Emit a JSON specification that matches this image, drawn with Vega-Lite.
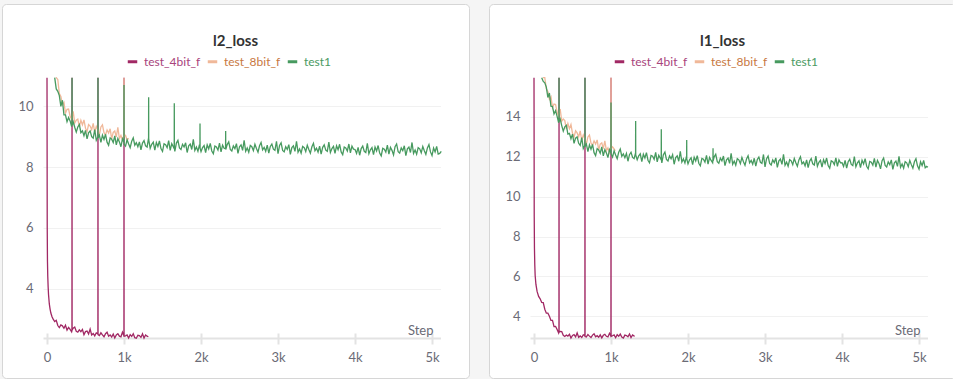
{
"$schema": "https://vega.github.io/schema/vega-lite/v6.json",
"background": "#f5f5f5",
"padding": {"left": 1, "top": 3, "right": 0, "bottom": 0},
"spacing": 18,
"config": {
  "view": {"fill": "white", "stroke": "#d6d6d6", "strokeWidth": 1, "cornerRadius": 4},
  "font": "Lato"
},
"resolve": {"legend": {"color": "independent"}},
"datasets": {
"l2_a": [{"x":0,"y":12},{"x":3,"y":6.0},{"x":6,"y":4.9},{"x":10,"y":4.4},{"x":15,"y":4.05},{"x":20,"y":3.8},{"x":30,"y":3.5},{"x":40,"y":3.33},{"x":50,"y":3.2},{"x":65,"y":3.08},{"x":80,"y":3.0},{"x":100,"y":2.92},{"x":120,"y":2.96},{"x":140,"y":2.79},{"x":160,"y":2.72},{"x":180,"y":2.81},{"x":200,"y":2.78},{"x":220,"y":2.7},{"x":240,"y":2.8},{"x":260,"y":2.64},{"x":280,"y":2.73},{"x":300,"y":2.66},{"x":320,"y":2.58},{"x":324,"y":2.62},{"x":325,"y":12},{"x":326,"y":2.64},{"x":340,"y":2.7},{"x":360,"y":2.74},{"x":380,"y":2.6},{"x":400,"y":2.57},{"x":420,"y":2.65},{"x":440,"y":2.59},{"x":460,"y":2.66},{"x":480,"y":2.49},{"x":500,"y":2.59},{"x":520,"y":2.61},{"x":540,"y":2.51},{"x":560,"y":2.67},{"x":580,"y":2.48},{"x":600,"y":2.53},{"x":620,"y":2.45},{"x":640,"y":2.55},{"x":660,"y":2.52},{"x":661,"y":2.5},{"x":662,"y":12},{"x":663,"y":2.49},{"x":680,"y":2.46},{"x":700,"y":2.55},{"x":720,"y":2.48},{"x":740,"y":2.42},{"x":760,"y":2.52},{"x":780,"y":2.57},{"x":800,"y":2.44},{"x":820,"y":2.48},{"x":840,"y":2.41},{"x":860,"y":2.51},{"x":880,"y":2.38},{"x":900,"y":2.48},{"x":920,"y":2.52},{"x":940,"y":2.44},{"x":960,"y":2.42},{"x":980,"y":2.57},{"x":999,"y":2.45},{"x":1000,"y":12},{"x":1001,"y":2.44},{"x":1020,"y":2.45},{"x":1040,"y":2.48},{"x":1060,"y":2.38},{"x":1080,"y":2.49},{"x":1100,"y":2.43},{"x":1120,"y":2.52},{"x":1140,"y":2.39},{"x":1160,"y":2.37},{"x":1180,"y":2.47},{"x":1200,"y":2.46},{"x":1220,"y":2.4},{"x":1240,"y":2.52},{"x":1260,"y":2.38},{"x":1280,"y":2.48},{"x":1300,"y":2.44},{"x":1316,"y":2.42}],
"l2_b": [{"x":115,"y":11.2},{"x":120,"y":11.07},{"x":140,"y":10.88},{"x":160,"y":10.42},{"x":180,"y":10.32},{"x":200,"y":10.05},{"x":220,"y":10.13},{"x":240,"y":9.77},{"x":260,"y":9.9},{"x":280,"y":9.91},{"x":300,"y":9.67},{"x":320,"y":9.58},{"x":340,"y":9.83},{"x":360,"y":9.45},{"x":380,"y":9.54},{"x":400,"y":9.58},{"x":420,"y":9.32},{"x":440,"y":9.54},{"x":460,"y":9.39},{"x":480,"y":9.55},{"x":500,"y":9.28},{"x":520,"y":9.17},{"x":540,"y":9.4},{"x":560,"y":9.35},{"x":580,"y":9.23},{"x":600,"y":9.44},{"x":620,"y":9.14},{"x":640,"y":9.34},{"x":660,"y":9.23},{"x":680,"y":9.06},{"x":700,"y":9.32},{"x":720,"y":9.39},{"x":740,"y":9.13},{"x":760,"y":9.06},{"x":780,"y":9.22},{"x":800,"y":9.12},{"x":820,"y":9.26},{"x":840,"y":8.93},{"x":860,"y":9.14},{"x":880,"y":9.19},{"x":900,"y":8.99},{"x":920,"y":9.31},{"x":940,"y":8.94},{"x":960,"y":9.04},{"x":980,"y":8.89},{"x":999,"y":9.05},{"x":1000,"y":12},{"x":1001,"y":9.0},{"x":1020,"y":9.04},{"x":1040,"y":8.89},{"x":1060,"y":8.95}],
"l2_c": [{"x":100,"y":11.2},{"x":120,"y":10.57},{"x":140,"y":10.49},{"x":160,"y":10.35},{"x":180,"y":10.0},{"x":200,"y":10.2},{"x":220,"y":9.72},{"x":240,"y":9.72},{"x":260,"y":9.49},{"x":280,"y":9.63},{"x":300,"y":9.52},{"x":320,"y":9.33},{"x":324,"y":9.4},{"x":325,"y":12},{"x":326,"y":9.38},{"x":340,"y":9.49},{"x":360,"y":9.31},{"x":380,"y":9.15},{"x":400,"y":9.32},{"x":420,"y":9.4},{"x":440,"y":9.13},{"x":460,"y":9.19},{"x":480,"y":9.03},{"x":500,"y":9.21},{"x":520,"y":8.93},{"x":540,"y":9.13},{"x":560,"y":9.19},{"x":580,"y":9.0},{"x":600,"y":8.95},{"x":620,"y":9.23},{"x":640,"y":8.88},{"x":660,"y":8.99},{"x":661,"y":8.98},{"x":662,"y":12},{"x":663,"y":8.97},{"x":680,"y":9.05},{"x":700,"y":8.81},{"x":720,"y":9.05},{"x":740,"y":8.91},{"x":760,"y":9.08},{"x":780,"y":8.82},{"x":800,"y":8.72},{"x":820,"y":8.96},{"x":840,"y":8.92},{"x":860,"y":8.81},{"x":880,"y":9.03},{"x":900,"y":8.73},{"x":920,"y":8.94},{"x":940,"y":8.83},{"x":960,"y":8.67},{"x":980,"y":8.93},{"x":999,"y":8.82},{"x":1000,"y":10.7},{"x":1001,"y":8.75},{"x":1020,"y":8.69},{"x":1040,"y":8.9},{"x":1060,"y":8.76},{"x":1080,"y":8.64},{"x":1100,"y":8.85},{"x":1120,"y":8.96},{"x":1140,"y":8.72},{"x":1160,"y":8.8},{"x":1180,"y":8.67},{"x":1200,"y":8.83},{"x":1220,"y":8.57},{"x":1240,"y":8.79},{"x":1260,"y":8.87},{"x":1280,"y":8.7},{"x":1300,"y":8.66},{"x":1319,"y":8.96},{"x":1320,"y":10.3},{"x":1321,"y":8.9},{"x":1340,"y":8.62},{"x":1360,"y":8.75},{"x":1380,"y":8.82},{"x":1400,"y":8.56},{"x":1420,"y":8.81},{"x":1440,"y":8.68},{"x":1460,"y":8.86},{"x":1480,"y":8.61},{"x":1500,"y":8.52},{"x":1520,"y":8.77},{"x":1540,"y":8.74},{"x":1560,"y":8.64},{"x":1580,"y":8.87},{"x":1600,"y":8.55},{"x":1620,"y":8.77},{"x":1640,"y":8.67},{"x":1652,"y":8.6},{"x":1653,"y":10.1},{"x":1654,"y":8.62},{"x":1660,"y":8.52},{"x":1680,"y":8.79},{"x":1700,"y":8.88},{"x":1720,"y":8.63},{"x":1740,"y":8.58},{"x":1760,"y":8.75},{"x":1780,"y":8.66},{"x":1800,"y":8.8},{"x":1820,"y":8.48},{"x":1840,"y":8.7},{"x":1860,"y":8.76},{"x":1880,"y":8.58},{"x":1900,"y":8.91},{"x":1920,"y":8.55},{"x":1940,"y":8.66},{"x":1960,"y":8.52},{"x":1980,"y":8.74},{"x":1986,"y":8.68},{"x":1987,"y":9.43},{"x":1988,"y":8.62},{"x":2000,"y":8.51},{"x":2020,"y":8.64},{"x":2040,"y":8.71},{"x":2060,"y":8.48},{"x":2080,"y":8.73},{"x":2100,"y":8.6},{"x":2120,"y":8.78},{"x":2140,"y":8.53},{"x":2160,"y":8.44},{"x":2180,"y":8.69},{"x":2200,"y":8.66},{"x":2220,"y":8.56},{"x":2240,"y":8.79},{"x":2260,"y":8.5},{"x":2280,"y":8.72},{"x":2300,"y":8.62},{"x":2319,"y":8.6},{"x":2320,"y":9.19},{"x":2321,"y":8.58},{"x":2340,"y":8.74},{"x":2360,"y":8.83},{"x":2380,"y":8.58},{"x":2400,"y":8.53},{"x":2420,"y":8.7},{"x":2440,"y":8.61},{"x":2460,"y":8.77},{"x":2480,"y":8.45},{"x":2500,"y":8.67},{"x":2520,"y":8.73},{"x":2540,"y":8.55},{"x":2560,"y":8.88},{"x":2580,"y":8.52},{"x":2600,"y":8.63},{"x":2620,"y":8.49},{"x":2640,"y":8.71},{"x":2660,"y":8.67},{"x":2680,"y":8.54},{"x":2700,"y":8.75},{"x":2720,"y":8.61},{"x":2740,"y":8.49},{"x":2760,"y":8.7},{"x":2780,"y":8.81},{"x":2800,"y":8.57},{"x":2820,"y":8.65},{"x":2840,"y":8.52},{"x":2860,"y":8.72},{"x":2880,"y":8.46},{"x":2900,"y":8.68},{"x":2920,"y":8.76},{"x":2940,"y":8.59},{"x":2960,"y":8.55},{"x":2980,"y":8.85},{"x":3000,"y":8.44},{"x":3020,"y":8.71},{"x":3040,"y":8.8},{"x":3060,"y":8.55},{"x":3080,"y":8.5},{"x":3100,"y":8.67},{"x":3120,"y":8.58},{"x":3140,"y":8.74},{"x":3160,"y":8.42},{"x":3180,"y":8.64},{"x":3200,"y":8.7},{"x":3220,"y":8.52},{"x":3240,"y":8.85},{"x":3260,"y":8.49},{"x":3280,"y":8.6},{"x":3300,"y":8.46},{"x":3320,"y":8.68},{"x":3340,"y":8.64},{"x":3360,"y":8.51},{"x":3380,"y":8.72},{"x":3400,"y":8.58},{"x":3420,"y":8.46},{"x":3440,"y":8.67},{"x":3460,"y":8.78},{"x":3480,"y":8.54},{"x":3500,"y":8.62},{"x":3520,"y":8.49},{"x":3540,"y":8.69},{"x":3560,"y":8.43},{"x":3580,"y":8.65},{"x":3600,"y":8.73},{"x":3620,"y":8.56},{"x":3640,"y":8.52},{"x":3660,"y":8.82},{"x":3680,"y":8.48},{"x":3700,"y":8.61},{"x":3720,"y":8.68},{"x":3740,"y":8.45},{"x":3760,"y":8.7},{"x":3780,"y":8.57},{"x":3800,"y":8.75},{"x":3820,"y":8.5},{"x":3840,"y":8.41},{"x":3860,"y":8.66},{"x":3880,"y":8.63},{"x":3900,"y":8.53},{"x":3920,"y":8.76},{"x":3940,"y":8.47},{"x":3960,"y":8.69},{"x":3980,"y":8.59},{"x":4000,"y":8.58},{"x":4020,"y":8.45},{"x":4040,"y":8.65},{"x":4060,"y":8.39},{"x":4080,"y":8.61},{"x":4100,"y":8.69},{"x":4120,"y":8.52},{"x":4140,"y":8.48},{"x":4160,"y":8.78},{"x":4180,"y":8.44},{"x":4200,"y":8.57},{"x":4220,"y":8.64},{"x":4240,"y":8.41},{"x":4260,"y":8.66},{"x":4280,"y":8.53},{"x":4300,"y":8.71},{"x":4320,"y":8.46},{"x":4340,"y":8.37},{"x":4360,"y":8.62},{"x":4380,"y":8.59},{"x":4400,"y":8.49},{"x":4420,"y":8.72},{"x":4440,"y":8.43},{"x":4460,"y":8.65},{"x":4480,"y":8.55},{"x":4500,"y":8.4},{"x":4520,"y":8.67},{"x":4540,"y":8.76},{"x":4560,"y":8.51},{"x":4580,"y":8.46},{"x":4600,"y":8.63},{"x":4620,"y":8.54},{"x":4640,"y":8.7},{"x":4660,"y":8.38},{"x":4680,"y":8.6},{"x":4700,"y":8.66},{"x":4720,"y":8.48},{"x":4740,"y":8.81},{"x":4760,"y":8.45},{"x":4780,"y":8.56},{"x":4800,"y":8.42},{"x":4820,"y":8.64},{"x":4840,"y":8.6},{"x":4860,"y":8.47},{"x":4880,"y":8.68},{"x":4900,"y":8.54},{"x":4920,"y":8.42},{"x":4940,"y":8.63},{"x":4960,"y":8.74},{"x":4980,"y":8.5},{"x":5000,"y":8.38},{"x":5020,"y":8.63},{"x":5040,"y":8.5},{"x":5060,"y":8.68},{"x":5080,"y":8.43},{"x":5100,"y":8.45},{"x":5120,"y":8.52}],
"l1_a": [{"x":0,"y":18},{"x":3,"y":9.0},{"x":6,"y":7.4},{"x":10,"y":6.6},{"x":15,"y":6.05},{"x":25,"y":5.6},{"x":40,"y":5.25},{"x":60,"y":5.0},{"x":80,"y":4.88},{"x":100,"y":4.7},{"x":120,"y":4.69},{"x":140,"y":4.36},{"x":160,"y":4.16},{"x":180,"y":4.16},{"x":200,"y":4.01},{"x":220,"y":3.8},{"x":240,"y":3.8},{"x":260,"y":3.49},{"x":280,"y":3.5},{"x":300,"y":3.34},{"x":320,"y":3.16},{"x":324,"y":3.22},{"x":325,"y":18},{"x":326,"y":3.2},{"x":340,"y":3.25},{"x":360,"y":3.24},{"x":380,"y":3.05},{"x":400,"y":2.99},{"x":420,"y":3.06},{"x":440,"y":3.01},{"x":460,"y":3.1},{"x":480,"y":2.91},{"x":500,"y":3.04},{"x":520,"y":3.08},{"x":540,"y":2.97},{"x":560,"y":3.17},{"x":580,"y":2.95},{"x":600,"y":3.02},{"x":620,"y":2.94},{"x":640,"y":3.07},{"x":660,"y":3.04},{"x":661,"y":3.0},{"x":662,"y":18},{"x":663,"y":2.99},{"x":680,"y":2.97},{"x":700,"y":3.09},{"x":720,"y":3.01},{"x":740,"y":2.94},{"x":760,"y":3.06},{"x":780,"y":3.13},{"x":800,"y":2.98},{"x":820,"y":3.03},{"x":840,"y":2.95},{"x":860,"y":3.07},{"x":880,"y":2.92},{"x":900,"y":3.05},{"x":920,"y":3.1},{"x":940,"y":3.0},{"x":960,"y":2.97},{"x":980,"y":3.15},{"x":999,"y":3.0},{"x":1000,"y":18},{"x":1001,"y":2.99},{"x":1020,"y":3.03},{"x":1040,"y":3.07},{"x":1060,"y":2.93},{"x":1080,"y":3.08},{"x":1100,"y":3.0},{"x":1120,"y":3.11},{"x":1140,"y":2.96},{"x":1160,"y":2.91},{"x":1180,"y":3.06},{"x":1200,"y":3.04},{"x":1220,"y":2.98},{"x":1240,"y":3.12},{"x":1260,"y":2.94},{"x":1280,"y":3.07},{"x":1300,"y":3.01},{"x":1307,"y":3.02}],
"l1_b": [{"x":115,"y":16.5},{"x":120,"y":16.3},{"x":140,"y":16.07},{"x":160,"y":15.41},{"x":180,"y":15.28},{"x":200,"y":14.89},{"x":220,"y":15.02},{"x":240,"y":14.47},{"x":260,"y":14.65},{"x":280,"y":14.63},{"x":300,"y":14.24},{"x":320,"y":14.06},{"x":340,"y":14.4},{"x":360,"y":13.79},{"x":380,"y":13.9},{"x":400,"y":13.82},{"x":420,"y":13.39},{"x":440,"y":13.68},{"x":460,"y":13.41},{"x":480,"y":13.62},{"x":500,"y":13.18},{"x":520,"y":12.99},{"x":540,"y":13.31},{"x":560,"y":13.2},{"x":580,"y":13.0},{"x":600,"y":13.3},{"x":620,"y":12.82},{"x":640,"y":13.1},{"x":660,"y":12.91},{"x":680,"y":12.64},{"x":700,"y":13.0},{"x":720,"y":13.1},{"x":740,"y":12.69},{"x":760,"y":12.58},{"x":780,"y":12.8},{"x":800,"y":12.64},{"x":820,"y":12.85},{"x":840,"y":12.34},{"x":860,"y":12.64},{"x":880,"y":12.7},{"x":900,"y":12.41},{"x":920,"y":12.8},{"x":940,"y":12.31},{"x":960,"y":12.45},{"x":980,"y":12.21},{"x":999,"y":12.45},{"x":1000,"y":18},{"x":1001,"y":12.4},{"x":1020,"y":12.5},{"x":1040,"y":12.4},{"x":1055,"y":12.3}],
"l1_c": [{"x":100,"y":16.5},{"x":120,"y":15.78},{"x":140,"y":15.71},{"x":160,"y":15.5},{"x":180,"y":14.98},{"x":200,"y":15.2},{"x":220,"y":14.54},{"x":240,"y":14.52},{"x":260,"y":14.15},{"x":280,"y":14.32},{"x":300,"y":14.03},{"x":320,"y":13.71},{"x":324,"y":13.8},{"x":325,"y":18},{"x":326,"y":13.78},{"x":340,"y":13.9},{"x":360,"y":13.57},{"x":380,"y":13.29},{"x":400,"y":13.51},{"x":420,"y":13.58},{"x":440,"y":13.14},{"x":460,"y":13.18},{"x":480,"y":12.91},{"x":500,"y":13.14},{"x":520,"y":12.68},{"x":540,"y":12.94},{"x":560,"y":13.0},{"x":580,"y":12.68},{"x":600,"y":12.57},{"x":620,"y":12.97},{"x":640,"y":12.42},{"x":660,"y":12.58},{"x":661,"y":12.55},{"x":662,"y":18},{"x":663,"y":12.52},{"x":680,"y":12.64},{"x":700,"y":12.26},{"x":720,"y":12.6},{"x":740,"y":12.38},{"x":760,"y":12.62},{"x":780,"y":12.21},{"x":800,"y":12.06},{"x":820,"y":12.41},{"x":840,"y":12.35},{"x":860,"y":12.18},{"x":880,"y":12.5},{"x":900,"y":12.05},{"x":920,"y":12.36},{"x":940,"y":12.2},{"x":960,"y":11.96},{"x":980,"y":12.36},{"x":999,"y":12.2},{"x":1000,"y":14.72},{"x":1001,"y":12.15},{"x":1020,"y":11.99},{"x":1040,"y":12.3},{"x":1060,"y":12.09},{"x":1080,"y":11.91},{"x":1100,"y":12.23},{"x":1120,"y":12.39},{"x":1140,"y":12.03},{"x":1160,"y":12.15},{"x":1180,"y":11.96},{"x":1200,"y":12.17},{"x":1220,"y":11.78},{"x":1240,"y":12.11},{"x":1260,"y":12.23},{"x":1280,"y":11.97},{"x":1300,"y":11.91},{"x":1319,"y":12.2},{"x":1320,"y":13.8},{"x":1321,"y":12.1},{"x":1340,"y":11.85},{"x":1360,"y":12.05},{"x":1380,"y":12.15},{"x":1400,"y":11.76},{"x":1420,"y":12.13},{"x":1440,"y":11.94},{"x":1460,"y":12.21},{"x":1480,"y":11.83},{"x":1500,"y":11.7},{"x":1520,"y":12.07},{"x":1540,"y":12.03},{"x":1560,"y":11.88},{"x":1580,"y":12.22},{"x":1600,"y":11.75},{"x":1620,"y":12.08},{"x":1640,"y":11.93},{"x":1652,"y":11.85},{"x":1653,"y":13.38},{"x":1654,"y":11.88},{"x":1660,"y":11.7},{"x":1680,"y":12.11},{"x":1700,"y":12.24},{"x":1720,"y":11.87},{"x":1740,"y":11.79},{"x":1760,"y":12.05},{"x":1780,"y":11.91},{"x":1800,"y":12.11},{"x":1820,"y":11.63},{"x":1840,"y":11.96},{"x":1860,"y":12.05},{"x":1880,"y":11.78},{"x":1900,"y":12.28},{"x":1920,"y":11.74},{"x":1940,"y":11.9},{"x":1960,"y":11.69},{"x":1980,"y":12.02},{"x":1982,"y":11.95},{"x":1983,"y":12.85},{"x":1984,"y":11.9},{"x":2000,"y":11.65},{"x":2020,"y":11.85},{"x":2040,"y":11.95},{"x":2060,"y":11.61},{"x":2080,"y":11.98},{"x":2100,"y":11.79},{"x":2120,"y":12.06},{"x":2140,"y":11.68},{"x":2160,"y":11.55},{"x":2180,"y":11.92},{"x":2200,"y":11.88},{"x":2220,"y":11.73},{"x":2240,"y":12.07},{"x":2260,"y":11.64},{"x":2280,"y":11.97},{"x":2300,"y":11.82},{"x":2320,"y":11.7},{"x":2324,"y":11.9},{"x":2325,"y":12.43},{"x":2326,"y":11.8},{"x":2340,"y":12.0},{"x":2360,"y":12.13},{"x":2380,"y":11.76},{"x":2400,"y":11.68},{"x":2420,"y":11.94},{"x":2440,"y":11.8},{"x":2460,"y":12.04},{"x":2480,"y":11.56},{"x":2500,"y":11.85},{"x":2520,"y":11.94},{"x":2540,"y":11.67},{"x":2560,"y":12.17},{"x":2580,"y":11.63},{"x":2600,"y":11.79},{"x":2620,"y":11.58},{"x":2640,"y":11.91},{"x":2660,"y":11.85},{"x":2680,"y":11.66},{"x":2700,"y":11.97},{"x":2720,"y":11.76},{"x":2740,"y":11.58},{"x":2760,"y":11.9},{"x":2780,"y":12.06},{"x":2800,"y":11.7},{"x":2820,"y":11.82},{"x":2840,"y":11.63},{"x":2860,"y":11.93},{"x":2880,"y":11.54},{"x":2900,"y":11.87},{"x":2920,"y":11.99},{"x":2940,"y":11.73},{"x":2960,"y":11.67},{"x":2980,"y":12.12},{"x":3000,"y":11.5},{"x":3020,"y":11.91},{"x":3040,"y":12.04},{"x":3060,"y":11.67},{"x":3080,"y":11.59},{"x":3100,"y":11.85},{"x":3120,"y":11.71},{"x":3140,"y":11.95},{"x":3160,"y":11.47},{"x":3180,"y":11.8},{"x":3200,"y":11.89},{"x":3220,"y":11.62},{"x":3240,"y":12.12},{"x":3260,"y":11.58},{"x":3280,"y":11.74},{"x":3300,"y":11.53},{"x":3320,"y":11.86},{"x":3340,"y":11.8},{"x":3360,"y":11.61},{"x":3380,"y":11.92},{"x":3400,"y":11.71},{"x":3420,"y":11.53},{"x":3440,"y":11.85},{"x":3460,"y":12.01},{"x":3480,"y":11.65},{"x":3500,"y":11.74},{"x":3520,"y":11.55},{"x":3540,"y":11.85},{"x":3560,"y":11.46},{"x":3580,"y":11.79},{"x":3600,"y":11.91},{"x":3620,"y":11.65},{"x":3640,"y":11.59},{"x":3660,"y":12.04},{"x":3680,"y":11.53},{"x":3700,"y":11.73},{"x":3720,"y":11.83},{"x":3740,"y":11.49},{"x":3760,"y":11.86},{"x":3780,"y":11.67},{"x":3800,"y":11.94},{"x":3820,"y":11.56},{"x":3840,"y":11.43},{"x":3860,"y":11.8},{"x":3880,"y":11.76},{"x":3900,"y":11.61},{"x":3920,"y":11.95},{"x":3940,"y":11.52},{"x":3960,"y":11.85},{"x":3980,"y":11.7},{"x":4000,"y":11.71},{"x":4020,"y":11.52},{"x":4040,"y":11.82},{"x":4060,"y":11.43},{"x":4080,"y":11.76},{"x":4100,"y":11.88},{"x":4120,"y":11.62},{"x":4140,"y":11.56},{"x":4160,"y":12.01},{"x":4180,"y":11.5},{"x":4200,"y":11.7},{"x":4220,"y":11.8},{"x":4240,"y":11.46},{"x":4260,"y":11.83},{"x":4280,"y":11.64},{"x":4300,"y":11.91},{"x":4320,"y":11.53},{"x":4340,"y":11.4},{"x":4360,"y":11.77},{"x":4380,"y":11.73},{"x":4400,"y":11.58},{"x":4420,"y":11.92},{"x":4440,"y":11.49},{"x":4460,"y":11.82},{"x":4480,"y":11.67},{"x":4500,"y":11.4},{"x":4520,"y":11.81},{"x":4540,"y":11.94},{"x":4560,"y":11.57},{"x":4580,"y":11.49},{"x":4600,"y":11.75},{"x":4620,"y":11.61},{"x":4640,"y":11.85},{"x":4660,"y":11.37},{"x":4680,"y":11.7},{"x":4700,"y":11.79},{"x":4720,"y":11.52},{"x":4740,"y":12.02},{"x":4760,"y":11.48},{"x":4780,"y":11.64},{"x":4800,"y":11.43},{"x":4820,"y":11.76},{"x":4840,"y":11.7},{"x":4860,"y":11.51},{"x":4880,"y":11.82},{"x":4900,"y":11.61},{"x":4920,"y":11.43},{"x":4940,"y":11.75},{"x":4960,"y":11.91},{"x":4980,"y":11.55},{"x":5000,"y":11.38},{"x":5020,"y":11.75},{"x":5040,"y":11.56},{"x":5060,"y":11.82},{"x":5080,"y":11.45},{"x":5100,"y":11.52},{"x":5115,"y":11.48}]
},
"hconcat": [
{
  "width": 467, "height": 374,
  "title": {"text": "l2_loss", "anchor": "middle", "offset": -57, "baseline": "alphabetic", "fontSize": 15, "font": "Lato", "fontWeight": "bold", "color": "#333333"},
  "encoding": {
    "x": {"field": "x", "type": "quantitative",
      "scale": {"domain": [-52, 5110], "range": [41, 438.5], "nice": false, "zero": false},
      "axis": {"orient": "bottom", "offset": -45, "values": [0,1000,2000,3000,4000,5000], "labelExpr": "datum.value === 0 ? '0' : (datum.value / 1000) + 'k'", "domain": false, "grid": false, "tickSize": 11, "tickWidth": 2, "tickColor": "#e3e3e3", "labelPadding": 7.5, "labelFont": "Lato", "labelFontSize": 13, "labelColor": "#6b6b76", "title": "Step", "titleX": 431, "titleY": 1, "titleAlign": "right", "titleBaseline": "alphabetic", "titleFont": "Lato", "titleFontSize": 13, "titleFontWeight": "normal", "titleColor": "#6b6b76"}},
    "y": {"field": "y", "type": "quantitative",
      "scale": {"domain": [2.37, 10.94], "range": [334.3, 73.7], "nice": false, "zero": false, "clamp": true},
      "axis": {"orient": "left", "offset": -41, "values": [2.37,4,6,8,10], "labelExpr": "datum.value < 3 ? '' : datum.label", "domain": false, "ticks": false, "tickSize": 0, "labelPadding": 10, "grid": true, "gridColor": {"condition": {"test": "datum.value < 3", "value": "#e3e3e3"}, "value": "#f1f1f1"}, "gridWidth": {"condition": {"test": "datum.value < 3", "value": 2}, "value": 1}, "labelFont": "Lato", "labelFontSize": 13, "labelColor": "#6b6b76", "title": null}},
    "color": {"type": "nominal",
      "scale": {"domain": ["test_4bit_f", "test_8bit_f", "test1"], "range": ["#a12864", "#f0b899", "#479a5f"]},
      "legend": {"orient": "none", "legendX": 124, "legendY": 51, "direction": "horizontal", "title": null, "symbolType": "stroke", "symbolStrokeWidth": 3, "symbolSize": 90, "labelFont": "Lato", "labelFontSize": 12, "labelOffset": 5, "columnPadding": 0, "padding": 0,
        "encode": {"labels": {"update": {"fill": {"signal": "datum.value === 'test1' ? '#4a9a62' : datum.value === 'test_8bit_f' ? '#c8783f' : '#a8447c'"}}}}}}
  },
  "layer": [
    {"data": {"name": "l2_a"}, "mark": {"type": "line", "strokeWidth": 1.3}, "encoding": {"color": {"datum": "test_4bit_f"}}},
    {"data": {"name": "l2_b"}, "mark": {"type": "line", "strokeWidth": 1.3}, "encoding": {"color": {"datum": "test_8bit_f"}}},
    {"data": {"name": "l2_c"}, "mark": {"type": "line", "strokeWidth": 1.3}, "encoding": {"color": {"datum": "test1"}}}
  ]
},
{
  "width": 467, "height": 374,
  "title": {"text": "l1_loss", "anchor": "middle", "offset": -57, "baseline": "alphabetic", "fontSize": 15, "font": "Lato", "fontWeight": "bold", "color": "#333333"},
  "encoding": {
    "x": {"field": "x", "type": "quantitative",
      "scale": {"domain": [-52, 5110], "range": [41, 438.5], "nice": false, "zero": false},
      "axis": {"orient": "bottom", "offset": -45, "values": [0,1000,2000,3000,4000,5000], "labelExpr": "datum.value === 0 ? '0' : (datum.value / 1000) + 'k'", "domain": false, "grid": false, "tickSize": 11, "tickWidth": 2, "tickColor": "#e3e3e3", "labelPadding": 7.5, "labelFont": "Lato", "labelFontSize": 13, "labelColor": "#6b6b76", "title": "Step", "titleX": 431, "titleY": 1, "titleAlign": "right", "titleBaseline": "alphabetic", "titleFont": "Lato", "titleFontSize": 13, "titleFontWeight": "normal", "titleColor": "#6b6b76"}},
    "y": {"field": "y", "type": "quantitative",
      "scale": {"domain": [2.9, 15.97], "range": [334.3, 73.7], "nice": false, "zero": false, "clamp": true},
      "axis": {"orient": "left", "offset": -41, "values": [2.9,4,6,8,10,12,14], "labelExpr": "datum.value < 3 ? '' : datum.label", "domain": false, "ticks": false, "tickSize": 0, "labelPadding": 10, "grid": true, "gridColor": {"condition": {"test": "datum.value < 3", "value": "#e3e3e3"}, "value": "#f1f1f1"}, "gridWidth": {"condition": {"test": "datum.value < 3", "value": 2}, "value": 1}, "labelFont": "Lato", "labelFontSize": 13, "labelColor": "#6b6b76", "title": null}},
    "color": {"type": "nominal",
      "scale": {"domain": ["test_4bit_f", "test_8bit_f", "test1"], "range": ["#a12864", "#f0b899", "#479a5f"]},
      "legend": {"orient": "none", "legendX": 124, "legendY": 51, "direction": "horizontal", "title": null, "symbolType": "stroke", "symbolStrokeWidth": 3, "symbolSize": 90, "labelFont": "Lato", "labelFontSize": 12, "labelOffset": 5, "columnPadding": 0, "padding": 0,
        "encode": {"labels": {"update": {"fill": {"signal": "datum.value === 'test1' ? '#4a9a62' : datum.value === 'test_8bit_f' ? '#c8783f' : '#a8447c'"}}}}}}
  },
  "layer": [
    {"data": {"name": "l1_a"}, "mark": {"type": "line", "strokeWidth": 1.3}, "encoding": {"color": {"datum": "test_4bit_f"}}},
    {"data": {"name": "l1_b"}, "mark": {"type": "line", "strokeWidth": 1.3}, "encoding": {"color": {"datum": "test_8bit_f"}}},
    {"data": {"name": "l1_c"}, "mark": {"type": "line", "strokeWidth": 1.3}, "encoding": {"color": {"datum": "test1"}}}
  ]
}
]
}
